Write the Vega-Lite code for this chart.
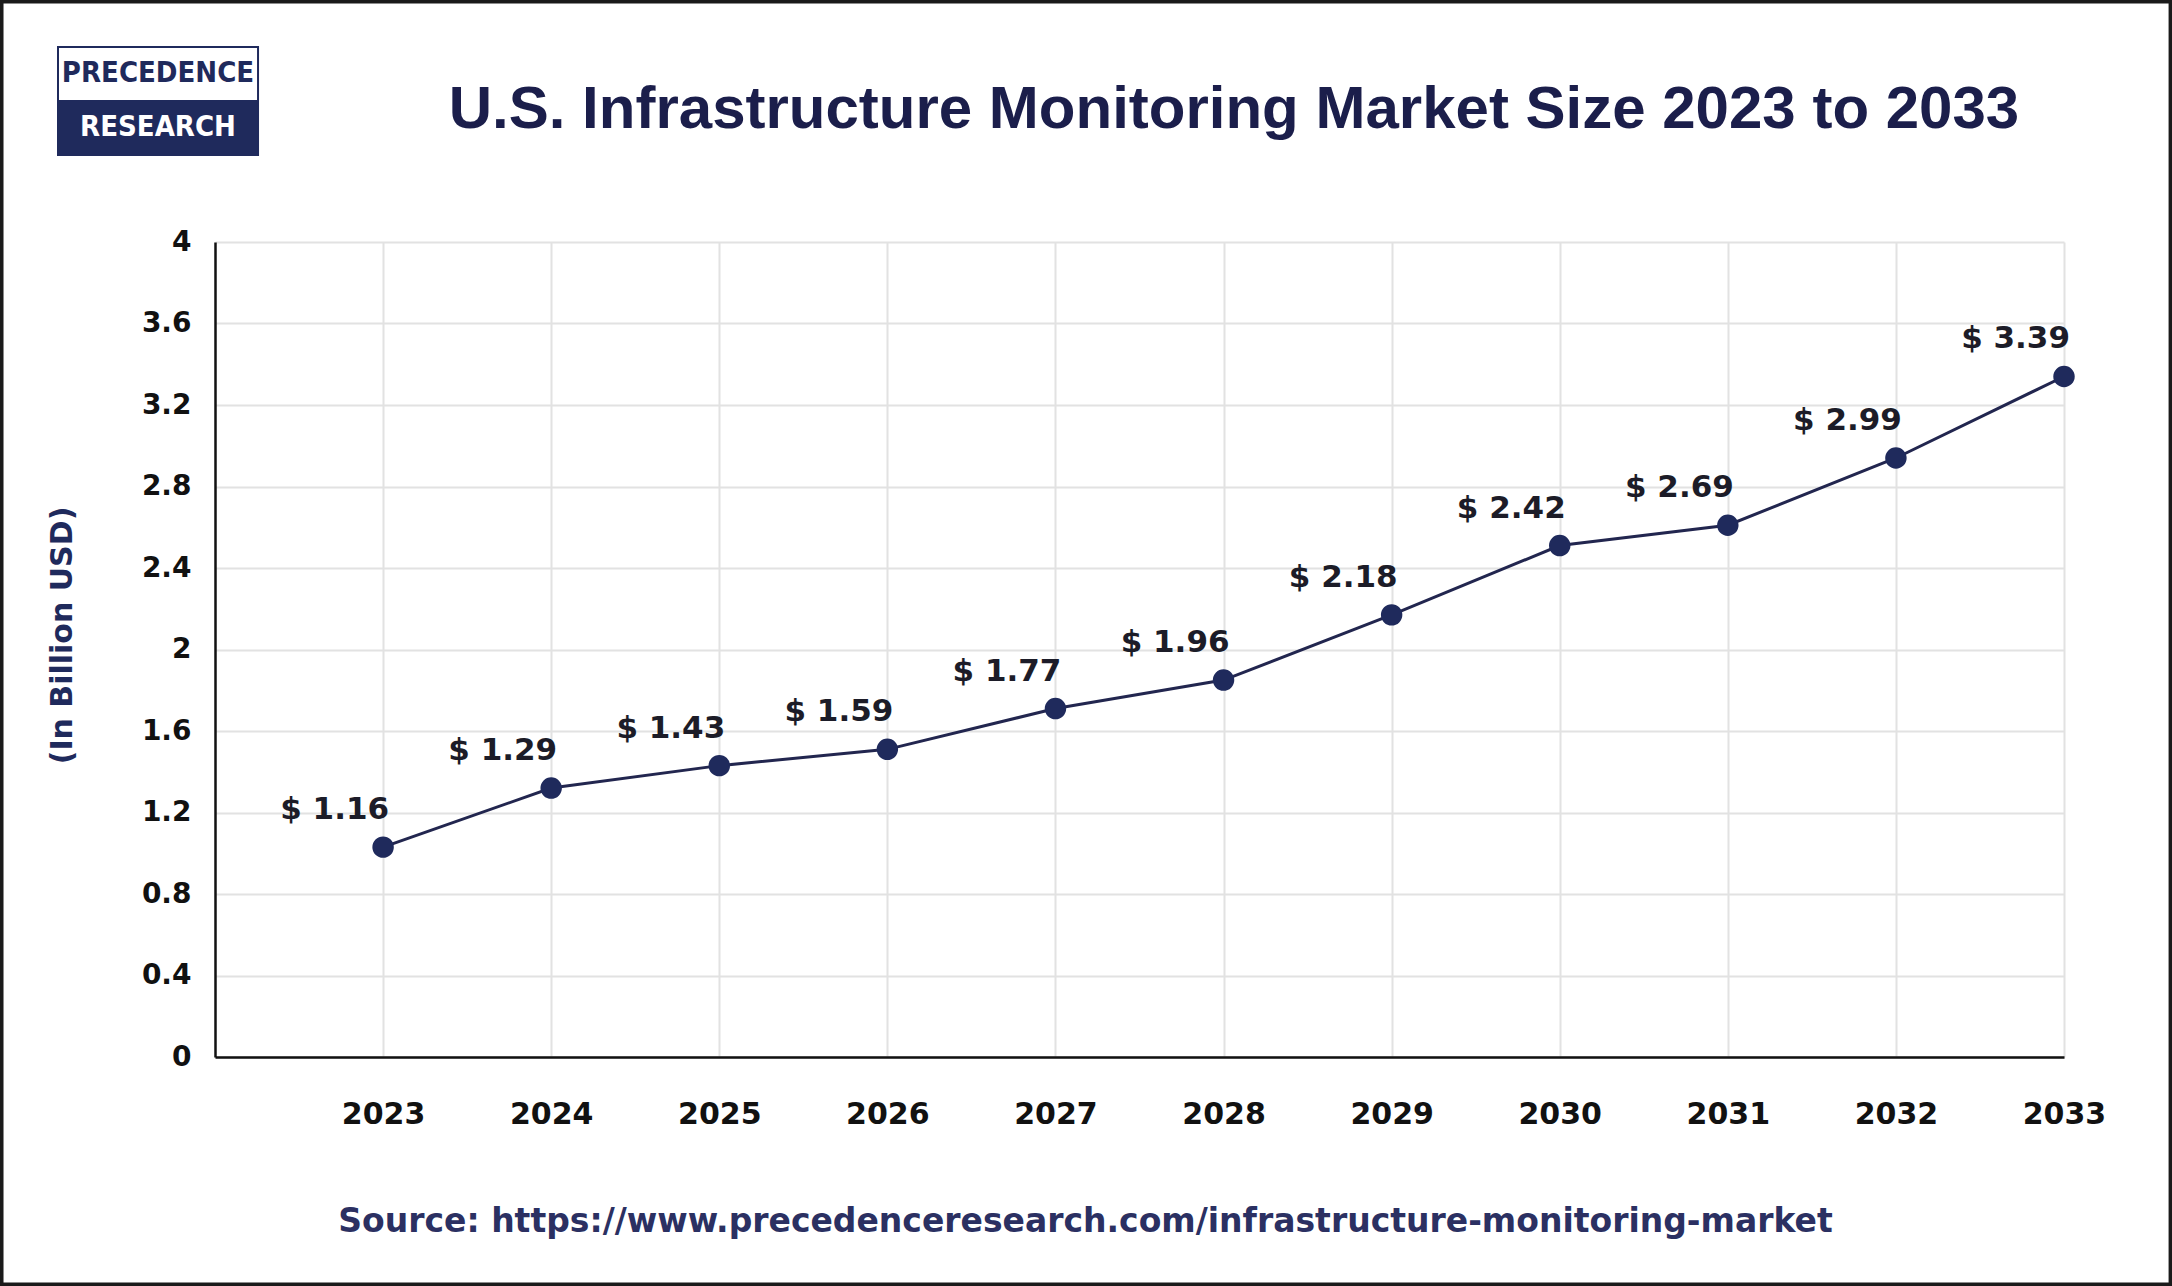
{
  "$schema": "https://vega.github.io/schema/vega-lite/v6.json",
  "autosize": {"type": "none"},
  "width": 1849,
  "height": 815,
  "padding": {"left": 215, "top": 242, "right": 108, "bottom": 229},
  "background": "#ffffff",
  "config": {"view": {"stroke": null}},
  "datasets": {
    "market": [
      {"year": 2023, "size": 1.03, "label": "$ 1.16"},
      {"year": 2024, "size": 1.32, "label": "$ 1.29"},
      {"year": 2025, "size": 1.43, "label": "$ 1.43"},
      {"year": 2026, "size": 1.51, "label": "$ 1.59"},
      {"year": 2027, "size": 1.71, "label": "$ 1.77"},
      {"year": 2028, "size": 1.85, "label": "$ 1.96"},
      {"year": 2029, "size": 2.17, "label": "$ 2.18"},
      {"year": 2030, "size": 2.51, "label": "$ 2.42"},
      {"year": 2031, "size": 2.61, "label": "$ 2.69"},
      {"year": 2032, "size": 2.94, "label": "$ 2.99"},
      {"year": 2033, "size": 3.34, "label": "$ 3.39"}
    ]
  },
  "layer": [
    {
      "data": {"values": [{"part": "frame"}]},
      "mark": {"type": "rect", "filled": false, "stroke": "#1a1a1a", "strokeWidth": 7},
      "encoding": {
        "x": {"datum": 2020.721, "type": "quantitative"},
        "x2": {"datum": 2033.643},
        "y": {"datum": 5.188, "type": "quantitative"},
        "y2": {"datum": -1.124}
      }
    },
    {
      "data": {"values": [{"heading": "U.S. Infrastructure Monitoring Market Size 2023 to 2033"}]},
      "mark": {"type": "text", "font": "Liberation Sans", "fontWeight": "bold", "fontSize": 60, "color": "#1b1e4b", "align": "center", "baseline": "alphabetic"},
      "encoding": {
        "x": {"datum": 2028.062, "type": "quantitative"},
        "y": {"datum": 4.5595, "type": "quantitative"},
        "text": {"field": "heading"}
      }
    },
    {
      "data": {"values": [{"part": "logo-bottom"}]},
      "mark": {"type": "rect", "fill": "#1f2a5c"},
      "encoding": {
        "x": {"datum": 2021.066, "type": "quantitative"},
        "x2": {"datum": 2022.256},
        "y": {"datum": 4.697, "type": "quantitative"},
        "y2": {"datum": 4.427}
      }
    },
    {
      "data": {"values": [{"part": "logo-box"}]},
      "mark": {"type": "rect", "filled": false, "stroke": "#1f2a5c", "strokeWidth": 2},
      "encoding": {
        "x": {"datum": 2021.066, "type": "quantitative"},
        "x2": {"datum": 2022.256},
        "y": {"datum": 4.957, "type": "quantitative"},
        "y2": {"datum": 4.427}
      }
    },
    {
      "data": {"values": [{"word": "PRECEDENCE", "row": 4.827, "tone": "dark"}, {"word": "RESEARCH", "row": 4.562, "tone": "light"}]},
      "mark": {"type": "text", "font": "DejaVu Sans Condensed, DejaVu Sans, sans-serif", "fontWeight": "bold", "fontSize": 29, "align": "center", "baseline": "middle"},
      "encoding": {
        "x": {"datum": 2021.661, "type": "quantitative"},
        "y": {"field": "row", "type": "quantitative"},
        "text": {"field": "word"},
        "color": {"field": "tone", "type": "nominal", "scale": {"domain": ["dark", "light"], "range": ["#1f2a5c", "#ffffff"]}, "legend": null}
      }
    },
    {
      "data": {"name": "market"},
      "mark": {"type": "line", "color": "#22264f", "strokeWidth": 3},
      "encoding": {
        "x": {
          "field": "year",
          "type": "quantitative",
          "scale": {"domain": [2022, 2033], "nice": false, "zero": false},
          "axis": {
            "values": [2023, 2024, 2025, 2026, 2027, 2028, 2029, 2030, 2031, 2032, 2033],
            "format": "d",
            "grid": true,
            "gridColor": "#e2e2e2",
            "gridWidth": 2,
            "ticks": false,
            "domainColor": "#111111",
            "domainWidth": 2.5,
            "labelFont": "DejaVu Sans",
            "labelFontWeight": "bold",
            "labelFontSize": 30,
            "labelColor": "#111111",
            "labelPadding": 42,
            "labelFlush": false,
            "labelOverlap": false,
            "title": "Source: https://www.precedenceresearch.com/infrastructure-monitoring-market",
            "titleFont": "DejaVu Sans",
            "titleFontWeight": "bold",
            "titleFontSize": 33,
            "titleColor": "#2b3062",
            "titleX": 870,
            "titleY": 174,
            "titleAlign": "center",
            "titleBaseline": "alphabetic"
          }
        },
        "y": {
          "field": "size",
          "type": "quantitative",
          "scale": {"domain": [0, 4], "nice": false},
          "axis": {
            "values": [0, 0.4, 0.8, 1.2, 1.6, 2, 2.4, 2.8, 3.2, 3.6, 4],
            "format": "~g",
            "grid": true,
            "gridColor": "#e2e2e2",
            "gridWidth": 2,
            "ticks": false,
            "domainColor": "#111111",
            "domainWidth": 2.5,
            "labelFont": "DejaVu Sans",
            "labelFontWeight": "bold",
            "labelFontSize": 28,
            "labelColor": "#111111",
            "labelPadding": 24,
            "labelFlush": false,
            "labelOverlap": false,
            "title": "(In Billion USD)",
            "titleFont": "DejaVu Sans",
            "titleFontWeight": "bold",
            "titleFontSize": 30,
            "titleColor": "#1f2a5c",
            "titleX": -153,
            "titleY": 393,
            "titleAngle": -90,
            "titleAlign": "center",
            "titleBaseline": "middle"
          }
        }
      }
    },
    {
      "data": {"name": "market"},
      "mark": {"type": "point", "filled": true, "shape": "circle", "size": 460, "color": "#1f2a5c", "opacity": 1},
      "encoding": {
        "x": {"field": "year", "type": "quantitative"},
        "y": {"field": "size", "type": "quantitative"}
      }
    },
    {
      "data": {"name": "market"},
      "mark": {"type": "text", "font": "DejaVu Sans", "fontWeight": "bold", "fontSize": 31, "color": "#1c1c28", "align": "right", "baseline": "alphabetic", "dx": 6, "dy": -28},
      "encoding": {
        "x": {"field": "year", "type": "quantitative"},
        "y": {"field": "size", "type": "quantitative"},
        "text": {"field": "label"}
      }
    }
  ]
}
